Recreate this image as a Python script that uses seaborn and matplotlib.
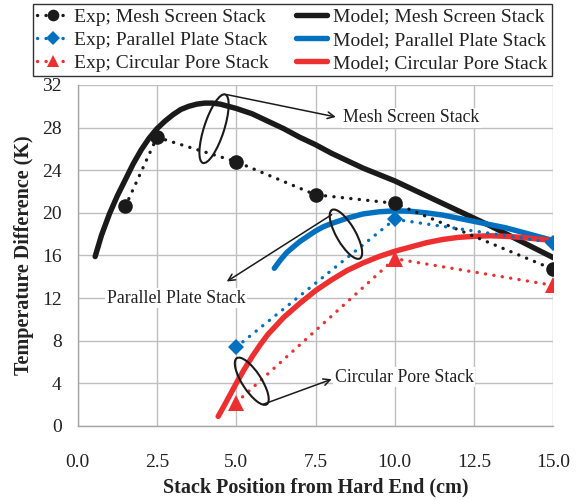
import numpy as np
import pandas as pd
import matplotlib
matplotlib.use("Agg")
import matplotlib.pyplot as plt
import matplotlib.transforms as mtransforms
from matplotlib.patches import Ellipse
import seaborn as sns

# ---------------- data ----------------
mesh_exp_x = [1.5, 2.5, 5.0, 7.5, 10.0, 15.0]
mesh_exp_y = [20.6, 27.1, 24.8, 21.7, 20.9, 14.7]
plate_exp_x = [5.0, 10.0, 15.0]
plate_exp_y = [7.4, 19.4, 17.2]
pore_exp_x = [5.0, 10.0, 15.0]
pore_exp_y = [2.2, 15.7, 13.2]

mesh_model_x = [0.55, 0.75, 1.0, 1.25, 1.5, 1.75, 2.0, 2.25, 2.5, 2.75, 3.0, 3.25, 3.5,
                3.75, 4.0, 4.25, 4.5, 5.0, 5.5, 6.0, 6.5, 7.0, 7.5, 8.0, 8.5, 9.0, 9.5,
                10.0, 11.0, 12.0, 13.0, 14.0, 15.0]
mesh_model_y = [15.9, 17.9, 19.9, 21.6, 23.1, 24.6, 25.9, 27.0, 27.9, 28.6, 29.2, 29.7,
                30.0, 30.2, 30.3, 30.3, 30.2, 29.8, 29.3, 28.6, 27.9, 27.1, 26.4, 25.6,
                24.9, 24.2, 23.6, 23.0, 21.6, 20.2, 18.8, 17.3, 15.8]
plate_model_x = [6.2, 6.4, 6.6, 6.8, 7.0, 7.25, 7.5, 7.75, 8.0, 8.5, 9.0, 9.5, 10.0,
                 10.5, 11.0, 11.5, 12.0, 12.5, 13.0, 13.5, 14.0, 14.5, 15.0]
plate_model_y = [14.8, 15.6, 16.3, 16.8, 17.3, 17.8, 18.3, 18.7, 19.0, 19.5, 19.9, 20.1,
                 20.2, 20.15, 20.0, 19.8, 19.5, 19.2, 18.9, 18.6, 18.2, 17.8, 17.4]
pore_model_x = [4.43, 4.6, 4.8, 5.0, 5.25, 5.5, 5.75, 6.0, 6.5, 7.0, 7.5, 8.0, 8.5, 9.0,
                9.5, 10.0, 10.5, 11.0, 11.5, 12.0, 12.5, 13.0, 13.5, 14.0, 14.5, 15.0]
pore_model_y = [0.9, 1.8, 2.9, 4.0, 5.3, 6.5, 7.6, 8.6, 10.2, 11.5, 12.7, 13.7, 14.6,
                15.3, 15.9, 16.4, 16.8, 17.2, 17.5, 17.7, 17.8, 17.85, 17.8, 17.7, 17.55,
                17.4]

x_ticks = [0.0, 2.5, 5.0, 7.5, 10.0, 12.5, 15.0]
y_ticks = [0, 4, 8, 12, 16, 20, 24, 28, 32]

exp_labels = ["Exp; Mesh Screen Stack", "Exp; Parallel Plate Stack", "Exp; Circular Pore Stack"]
model_labels = ["Model; Mesh Screen Stack", "Model; Parallel Plate Stack",
                "Model; Circular Pore Stack"]

BLACK = "#1a1a1a"
BLUE = "#0070C0"
RED = "#EE2F2F"
GRID = "#BFBFBF"

# ---------------- style ----------------
sns.set_style("white")
plt.rcParams["font.family"] = ["Liberation Serif", "DejaVu Serif"]

fig = plt.figure(figsize=(5.83, 5.0), dpi=100)
ax = fig.add_axes([77.7 / 583, 74 / 500, 475.6 / 583, 341 / 500])

dot = (0, (0.05, 2.5))
exp_series = [
    (mesh_exp_x, mesh_exp_y, BLACK, "o", 10.5, exp_labels[0]),
    (plate_exp_x, plate_exp_y, BLUE, "D", 8.5, exp_labels[1]),
    (pore_exp_x, pore_exp_y, RED, "^", 11, exp_labels[2]),
]
model_series = [
    (mesh_model_x, mesh_model_y, BLACK, model_labels[0]),
    (plate_model_x, plate_model_y, BLUE, model_labels[1]),
    (pore_model_x, pore_model_y, RED, model_labels[2]),
]

for xs, ys, c, lab in model_series:
    df = pd.DataFrame({"x": xs, "y": ys})
    sns.lineplot(data=df, x="x", y="y", ax=ax, color=c, lw=3.9, sort=False,
                 solid_capstyle="round", solid_joinstyle="round", label=lab, zorder=3)

for xs, ys, c, m, ms, lab in exp_series:
    df = pd.DataFrame({"x": xs, "y": ys})
    sns.lineplot(data=df, x="x", y="y", ax=ax, color=c, lw=2.4, linestyle=dot,
                 dash_capstyle="round", marker=m, markersize=ms, markeredgewidth=0,
                 label=lab, zorder=4)

ax.set_xlim(0, 15)
ax.set_ylim(0, 32)
ax.set_xticks(x_ticks)
ax.set_xticklabels([f"{v:.1f}" for v in x_ticks])
ax.set_yticks(y_ticks)
ax.set_yticklabels([str(v) for v in y_ticks])
ax.grid(True, color=GRID, lw=1.0)
ax.set_axisbelow(True)
for s in ["top", "right"]:
    ax.spines[s].set_visible(False)
for s in ["left", "bottom"]:
    ax.spines[s].set_color("#A6A6A6")
    ax.spines[s].set_linewidth(1.0)
ax.tick_params(axis="both", which="major", direction="out", length=4.5, width=1.0,
               color="#A6A6A6", labelsize=14, labelcolor="#222222")
ax.tick_params(axis="x", pad=16)
ax.tick_params(axis="y", pad=7)
ax.set_xlabel("Stack Position from Hard End (cm)", fontsize=14.5, fontweight="bold",
              color="#222222", labelpad=4)
ax.set_ylabel("Temperature Difference (K)", fontsize=14.5, fontweight="bold",
              color="#222222", labelpad=6)

# ---------------- annotations ----------------
def ellipse(cx, cy, w_px, h_px, angle):
    tr = fig.dpi_scale_trans + mtransforms.ScaledTranslation(cx, cy, ax.transData)
    e = Ellipse((0, 0), w_px / fig.dpi, h_px / fig.dpi, angle=angle, transform=tr,
                fill=False, edgecolor=BLACK, lw=1.5, zorder=6)
    ax.add_patch(e)

ellipse(4.30, 27.9, 72, 20, 72)
ellipse(8.46, 18.0, 56, 19, 120)
ellipse(5.49, 4.2, 55, 19, 123)

arrow = dict(arrowstyle="->", color=BLACK, lw=1.1, shrinkA=0, shrinkB=0,
             mutation_scale=12)
ax.annotate("", xy=(8.14, 29.0), xytext=(4.70, 31.1), arrowprops=arrow, zorder=6)
ax.annotate("", xy=(4.70, 13.56), xytext=(8.01, 19.83), arrowprops=arrow, zorder=6)
ax.annotate("", xy=(8.01, 4.39), xytext=(5.85, 2.04), arrowprops=arrow, zorder=6)

txt = dict(fontsize=12.8, color="#222222", va="center", ha="left", zorder=7,
           bbox=dict(facecolor="white", edgecolor="none", pad=1))
ax.text(8.38, 28.92, "Mesh Screen Stack", **txt)
ax.text(0.91, 12.0, "Parallel Plate Stack", **txt)
ax.text(8.11, 4.58, "Circular Pore Stack", **txt)

# ---------------- legend ----------------
handles, labels = ax.get_legend_handles_labels()
ax.get_legend().remove()
order = [labels.index(l) for l in exp_labels + model_labels]
leg = fig.legend([handles[i] for i in order], [labels[i] for i in order], ncol=2,
                 loc="upper left", bbox_to_anchor=(33 / 583, 1 - 4 / 500),
                 borderaxespad=0, frameon=True, fancybox=False, framealpha=1,
                 edgecolor="#333333", fontsize=14, handlelength=1.6,
                 handletextpad=0.3, columnspacing=1.4, labelspacing=0.28,
                 borderpad=0.22, markerscale=0.8)
leg.get_frame().set_linewidth(1.0)
for t in leg.get_texts():
    t.set_color("#222222")

fig.savefig("out.png", dpi=100)
